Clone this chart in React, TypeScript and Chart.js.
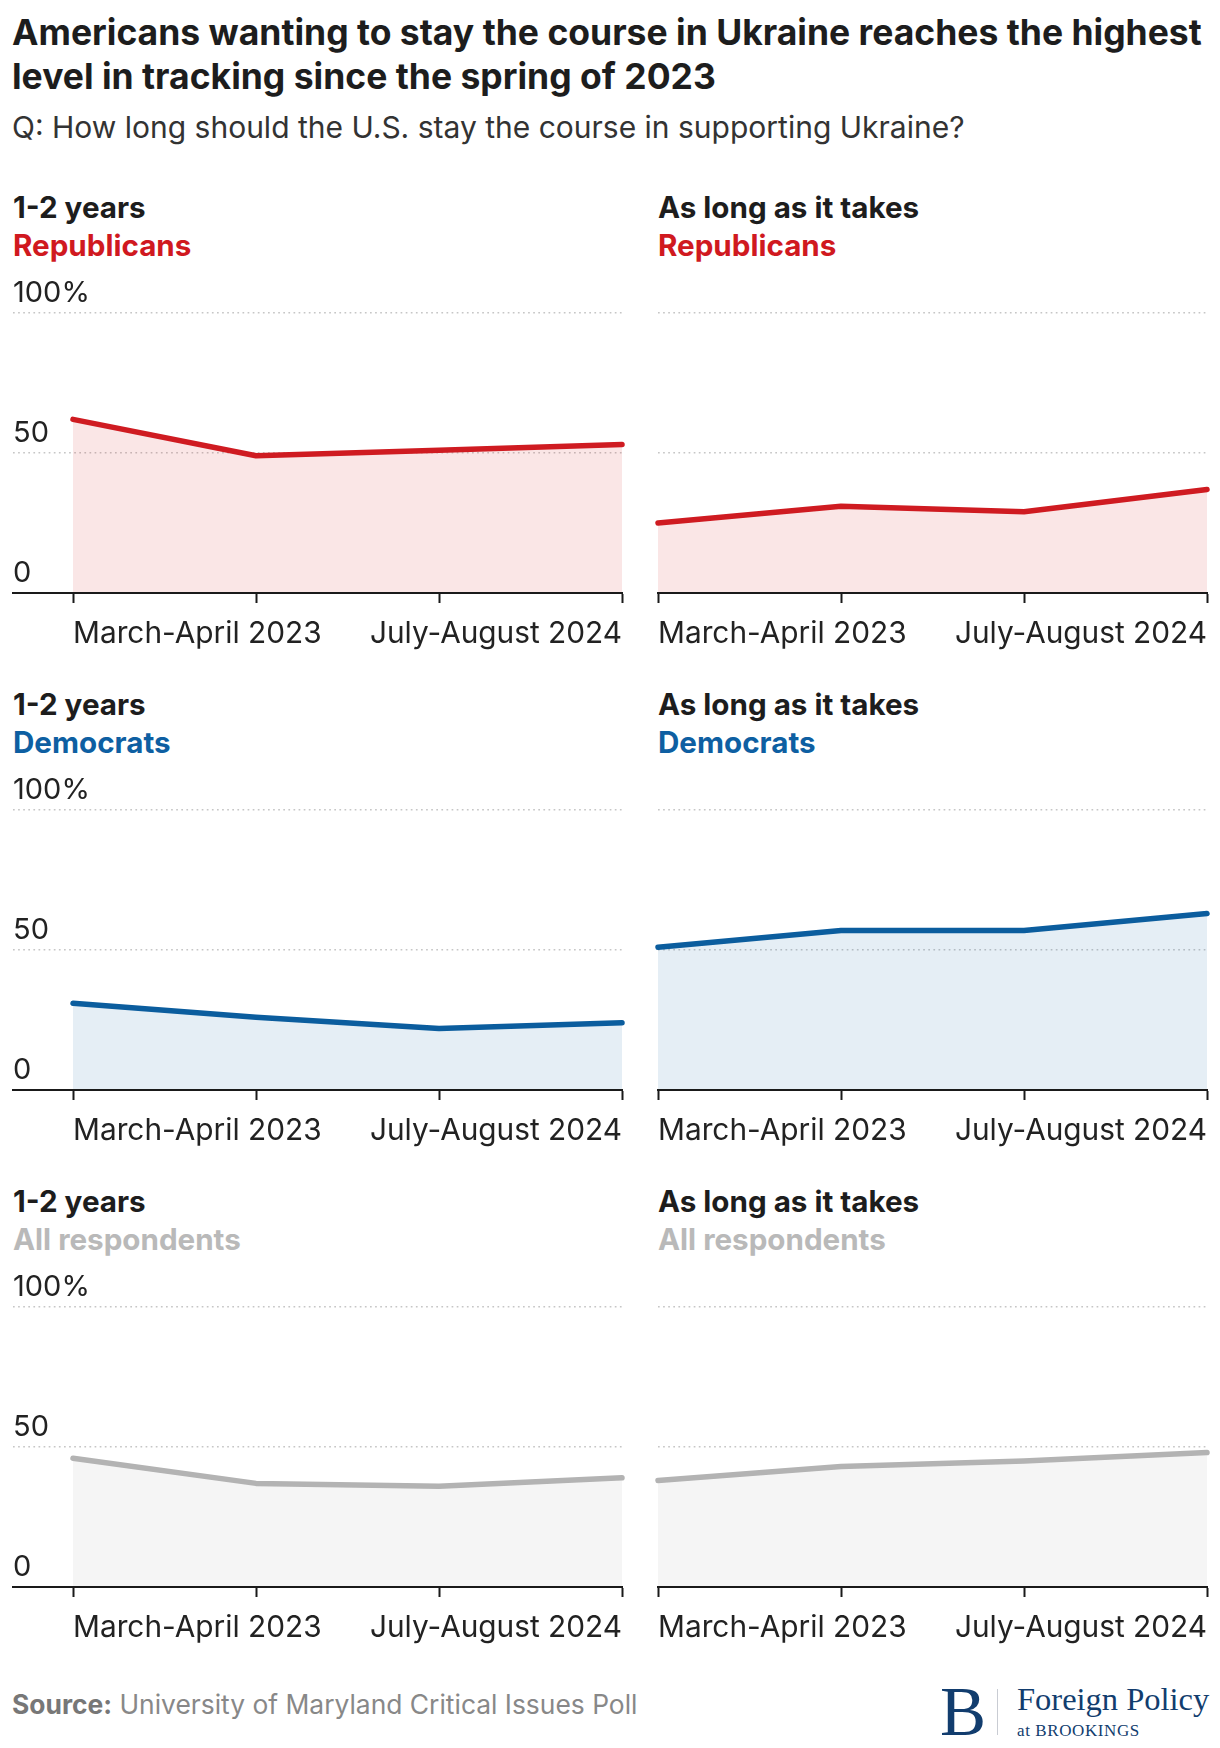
import React, { useEffect, useRef } from "react";
import { Chart, registerables } from "chart.js";

Chart.register(...registerables);

// ---------- data ----------
const categories = ["March-April 2023", "", "", "July-August 2024"];
const yTickValues = [0, 50, 100];

const repShortTerm = [62, 49, 51, 53];
const repLongTerm = [25, 31, 29, 37];
const demShortTerm = [31, 26, 22, 24];
const demLongTerm = [51, 57, 57, 63];
const allShortTerm = [46, 37, 36, 39];
const allLongTerm = [38, 43, 45, 48];

const panelTitles = ["1-2 years", "As long as it takes"];
const groupNames = ["Republicans", "Democrats", "All respondents"];

// ---------- styles ----------
const FONT = "Inter, 'Noto Sans', sans-serif";
const SERIF = "'Liberation Serif', 'DejaVu Serif', serif";
const groupTextColors = ["#d0191f", "#0e5fa2", "#b9b9b9"];
const lineColors = ["#cf1b21", "#0b5d9e", "#b3b3b3"];
const fillColors = ["rgba(208,28,31,0.11)", "rgba(11,93,158,0.105)", "rgba(170,170,170,0.12)"];

const ROW_PITCH = 497;
const AXIS_Y0 = 593; // y of zero axis in row 0
const PLOT_H = 280;
const PAD_TOP = 45;
const AXIS_H = 64;
const CANVAS_H = 400;
const TICK_LEN = 10;
const TICK_PAD = 13;
const X_LABEL_SIZE = 29.8;
const Y_LABEL_SIZE = 29;

type PanelProps = {
  values: number[];
  color: string;
  fill: string;
  left: number;
  width: number;
  top: number;
  padL: number;
  padR: number;
  showY: boolean;
  lead: number; // px between chart-area left edge and first point
};

function Panel({ values, color, fill, left, width, top, padL, padR, showY, lead }: PanelProps) {
  const ref = useRef<HTMLCanvasElement | null>(null);
  useEffect(() => {
    const canvas = ref.current!;
    const n = categories.length;
    const areaW = width - padL - padR;
    const span = areaW - lead;
    const xMin = -(lead / span) * (n - 1);
    const padBottom = CANVAS_H - PAD_TOP - PLOT_H - AXIS_H;
    const chart = new Chart(canvas, {
      type: "line",
      data: {
        datasets: [
          {
            data: values.map((v, i) => ({ x: i, y: v })),
            borderColor: color,
            backgroundColor: fill,
            borderWidth: 5.5,
            fill: "origin",
            pointRadius: 0,
            tension: 0,
            clip: false as any,
            borderCapStyle: "round",
            borderJoinStyle: "round",
          },
        ],
      },
      options: {
        animation: false,
        responsive: false,
        maintainAspectRatio: false,
        layout: { padding: { left: padL, right: padR, top: PAD_TOP, bottom: padBottom } },
        plugins: { legend: { display: false }, tooltip: { enabled: false } },
        scales: {
          x: {
            type: "linear",
            min: xMin,
            max: n - 1,
            afterBuildTicks: (s: any) => {
              s.ticks = categories.map((_, i) => ({ value: i }));
            },
            afterFit: (s: any) => {
              s.height = AXIS_H;
            },
            ticks: {
              callback: (v: any) => categories[Math.round(Number(v))] ?? "",
              align: "inner" as any,
              autoSkip: false,
              maxRotation: 0,
              padding: TICK_PAD,
              color: "#222",
              font: { family: FONT, size: X_LABEL_SIZE },
            },
            grid: {
              drawOnChartArea: false,
              drawTicks: true,
              tickLength: TICK_LEN,
              tickColor: "#1a1a1a",
              tickWidth: 2,
            },
            border: { display: true, color: "#1a1a1a", width: 2, z: 1 },
          },
          y: {
            min: 0,
            max: 100,
            afterBuildTicks: (s: any) => {
              s.ticks = yTickValues.map((v) => ({ value: v }));
            },
            afterFit: (s: any) => {
              s.width = 0;
            },
            ticks: {
              display: showY,
              mirror: true,
              padding: 0,
              labelOffset: -20,
              color: "#222",
              font: { family: FONT, size: Y_LABEL_SIZE },
              callback: (v: any) => (Number(v) === 100 ? "100%" : String(v)),
            },
            grid: { color: "#c6c6c6", lineWidth: 1.6, drawTicks: false },
            border: { display: false, dash: [1.7, 3.4] },
          },
        },
      },
    });
    return () => chart.destroy();
  }, []);
  return (
    <canvas
      ref={ref}
      width={width}
      height={CANVAS_H}
      style={{ position: "absolute", left, top, width, height: CANVAS_H }}
    />
  );
}

const abs = (o: React.CSSProperties): React.CSSProperties => ({ position: "absolute", margin: 0, whiteSpace: "nowrap", ...o });

export default function App() {
  const rows = [
    [repShortTerm, repLongTerm],
    [demShortTerm, demLongTerm],
    [allShortTerm, allLongTerm],
  ];
  return (
    <div style={{ position: "absolute", left: 0, top: 0, width: 1220, height: 1748, background: "#fff", fontFamily: FONT, color: "#222" }}>
      <div style={abs({ left: 12, top: 11, fontSize: 35.5, lineHeight: "44px", fontWeight: 700, color: "#1d1d1d" })}>
        Americans wanting to stay the course in Ukraine reaches the highest
        <br />
        level in tracking since the spring of 2023
      </div>
      <div style={abs({ left: 12, top: 112, fontSize: 30, lineHeight: "30px", color: "#333" })}>
        Q: How long should the U.S. stay the course in supporting Ukraine?
      </div>

      {rows.map((pair, r) => {
        const axisY = AXIS_Y0 + r * ROW_PITCH;
        const canvasTop = axisY - PLOT_H - PAD_TOP;
        return (
          <React.Fragment key={r}>
            {pair.map((vals, c) => {
              const textLeft = c === 0 ? 13 : 658;
              return (
                <React.Fragment key={c}>
                  <div style={abs({ left: textLeft, top: 193 + r * ROW_PITCH, fontSize: 29.6, lineHeight: "29.6px", fontWeight: 700, color: "#1d1d1d" })}>
                    {panelTitles[c]}
                  </div>
                  <div style={abs({ left: textLeft, top: 231 + r * ROW_PITCH, fontSize: 29.6, lineHeight: "29.6px", fontWeight: 700, color: groupTextColors[r] })}>
                    {groupNames[r]}
                  </div>
                  <Panel
                    values={vals}
                    color={lineColors[r]}
                    fill={fillColors[r]}
                    left={c === 0 ? 0 : 640}
                    width={c === 0 ? 640 : 580}
                    top={canvasTop}
                    padL={c === 0 ? 13 : 18}
                    padR={c === 0 ? 18 : 13}
                    showY={c === 0}
                    lead={c === 0 ? 60 : 0}
                  />
                </React.Fragment>
              );
            })}
          </React.Fragment>
        );
      })}

      <div style={abs({ left: 12, top: 1691, fontSize: 26.4, lineHeight: "26.4px", color: "#888" })}>
        <span style={{ fontWeight: 700, color: "#777" }}>Source:</span> University of Maryland Critical Issues Poll
      </div>

      <div style={abs({ left: 940, top: 1678, fontFamily: SERIF, fontSize: 69, lineHeight: "69px", color: "#123d6e" })}>B</div>
      <div style={{ position: "absolute", left: 997, top: 1689, width: 1, height: 46, background: "#c9ccd3" }} />
      <div style={abs({ left: 1017, top: 1683, fontFamily: SERIF, fontSize: 32.5, lineHeight: "32.5px", color: "#123d6e" })}>Foreign Policy</div>
      <div style={abs({ left: 1017, top: 1722, fontFamily: SERIF, fontSize: 17, lineHeight: "17px", color: "#123d6e", letterSpacing: "0.6px" })}>
        at BROOKINGS
      </div>
    </div>
  );
}
